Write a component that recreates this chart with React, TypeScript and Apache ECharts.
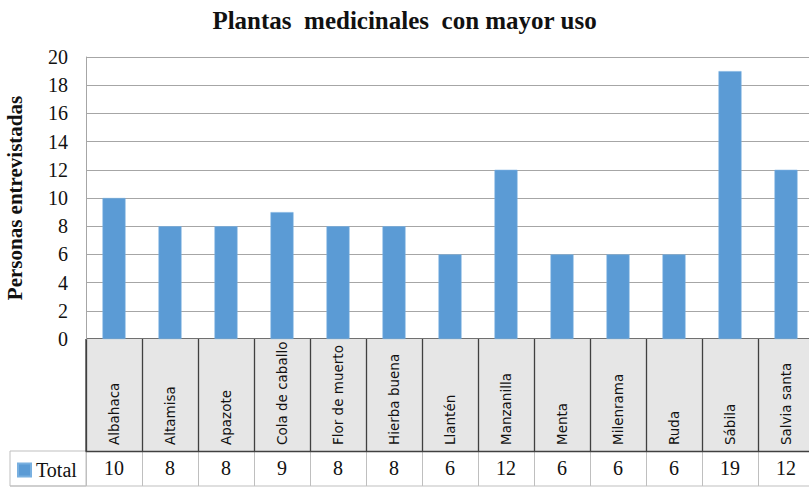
import React, { useEffect, useRef } from "react";
import * as echarts from "echarts";

const categories = [
  "Albahaca", "Altamisa", "Apazote", "Cola de caballo", "Flor de muerto",
  "Hierba buena", "Llantén", "Manzanilla", "Menta", "Milenrama", "Ruda",
  "Sábila", "Salvia santa",
];
const totals = [10, 8, 8, 9, 8, 8, 6, 12, 6, 6, 6, 19, 12];
const seriesName = "Total";
const titleText = "Plantas  medicinales  con mayor uso";
const yAxisName = "Personas entrevistadas";

const SERIF = "'Liberation Serif', 'DejaVu Serif', serif";
const SANS = "'DejaVu Sans', 'Open Sans', sans-serif";
const BLUE = "#5B9BD5";

export default function App() {
  const ref = useRef<HTMLDivElement>(null);
  useEffect(() => {
    if (!ref.current) return;
    const chart = echarts.init(ref.current, undefined, { renderer: "svg" });
    const left = 86;
    const width = 56 * categories.length;
    chart.setOption({
      animation: false,
      backgroundColor: "#ffffff",
      title: {
        text: titleText,
        left: "center",
        top: 3,
        textStyle: { fontFamily: SERIF, fontWeight: "bold", fontSize: 25, color: "#111" },
      },
      legend: {
        data: [seriesName],
        left: 12,
        top: 455,
        icon: "rect",
        itemWidth: 13,
        itemHeight: 13,
        itemGap: 7,
        textStyle: { fontFamily: SERIF, fontSize: 20, color: "#111" },
        selectedMode: false,
      },
      grid: [
        { left, top: 57, width, height: 282, outerBoundsMode: "none" },
        { left, top: 339, width, height: 112, outerBoundsMode: "none" },
        { left, top: 451, width, height: 35, outerBoundsMode: "none" },
      ],
      xAxis: [
        {
          gridIndex: 0,
          type: "category",
          data: categories,
          axisLine: { show: false },
          axisTick: { show: false },
          axisLabel: { show: false },
        },
        {
          gridIndex: 1,
          type: "category",
          data: categories,
          position: "bottom",
          axisLine: { show: true, lineStyle: { color: "#404040", width: 1.3 } },
          axisTick: { show: false },
          splitLine: { show: true, interval: 0, lineStyle: { color: "#404040", width: 1.3 } },
          splitArea: { show: true, interval: 0, areaStyle: { color: ["#e6e6e6"] } },
          axisLabel: {
            inside: true,
            rotate: 90,
            interval: 0,
            margin: 6,
            fontFamily: SANS,
            fontSize: 13.5,
            color: "#111",
          },
        },
        {
          gridIndex: 2,
          type: "category",
          data: totals.map((v) => String(v)),
          position: "top",
          axisLine: { show: false },
          axisTick: { show: false },
          splitLine: { show: true, interval: 0, lineStyle: { color: "#bfbfbf", width: 1 } },
          axisLabel: {
            inside: true,
            interval: 0,
            margin: 7,
            fontFamily: SERIF,
            fontSize: 20,
            color: "#111",
            verticalAlign: "top",
          },
        },
      ],
      yAxis: [
        {
          gridIndex: 0,
          type: "value",
          min: 0,
          max: 20,
          interval: 2,
          name: yAxisName,
          nameLocation: "middle",
          nameGap: 61,
          nameTextStyle: { fontFamily: SERIF, fontWeight: "bold", fontSize: 21, color: "#111" },
          axisLine: { show: true, lineStyle: { color: "#a6a6a6" } },
          axisTick: { show: false },
          splitLine: { show: true, lineStyle: { color: "#a6a6a6", width: 1 } },
          axisLabel: { fontFamily: SERIF, fontSize: 20, color: "#111", margin: 18 },
        },
        { gridIndex: 1, type: "value", show: false },
        { gridIndex: 2, type: "value", show: false },
      ],
      series: [
        {
          name: seriesName,
          type: "bar",
          xAxisIndex: 0,
          yAxisIndex: 0,
          data: totals,
          barWidth: 23,
          itemStyle: { color: BLUE, borderColor: "#79b0e0", borderWidth: 0.6 },
        },
      ],
      graphic: [
        {
          type: "rect",
          shape: { x: 10, y: 451, width: 76, height: 35 },
          style: { fill: "none", stroke: "#bfbfbf", lineWidth: 1 },
        },
        {
          type: "line",
          shape: { x1: 10, y1: 486, x2: 809, y2: 486 },
          style: { stroke: "#bfbfbf", lineWidth: 1 },
        },
        {
          type: "line",
          shape: { x1: 86, y1: 339, x2: 86, y2: 451 },
          style: { stroke: "#404040", lineWidth: 1.3 },
        },
        {
          type: "line",
          shape: { x1: 86, y1: 339, x2: 809, y2: 339 },
          style: { stroke: "#404040", lineWidth: 1.3 },
        },
      ],
    });
    return () => chart.dispose();
  }, []);
  return <div ref={ref} style={{ width: 809, height: 488, position: "absolute", left: 0, top: 0 }} />;
}
